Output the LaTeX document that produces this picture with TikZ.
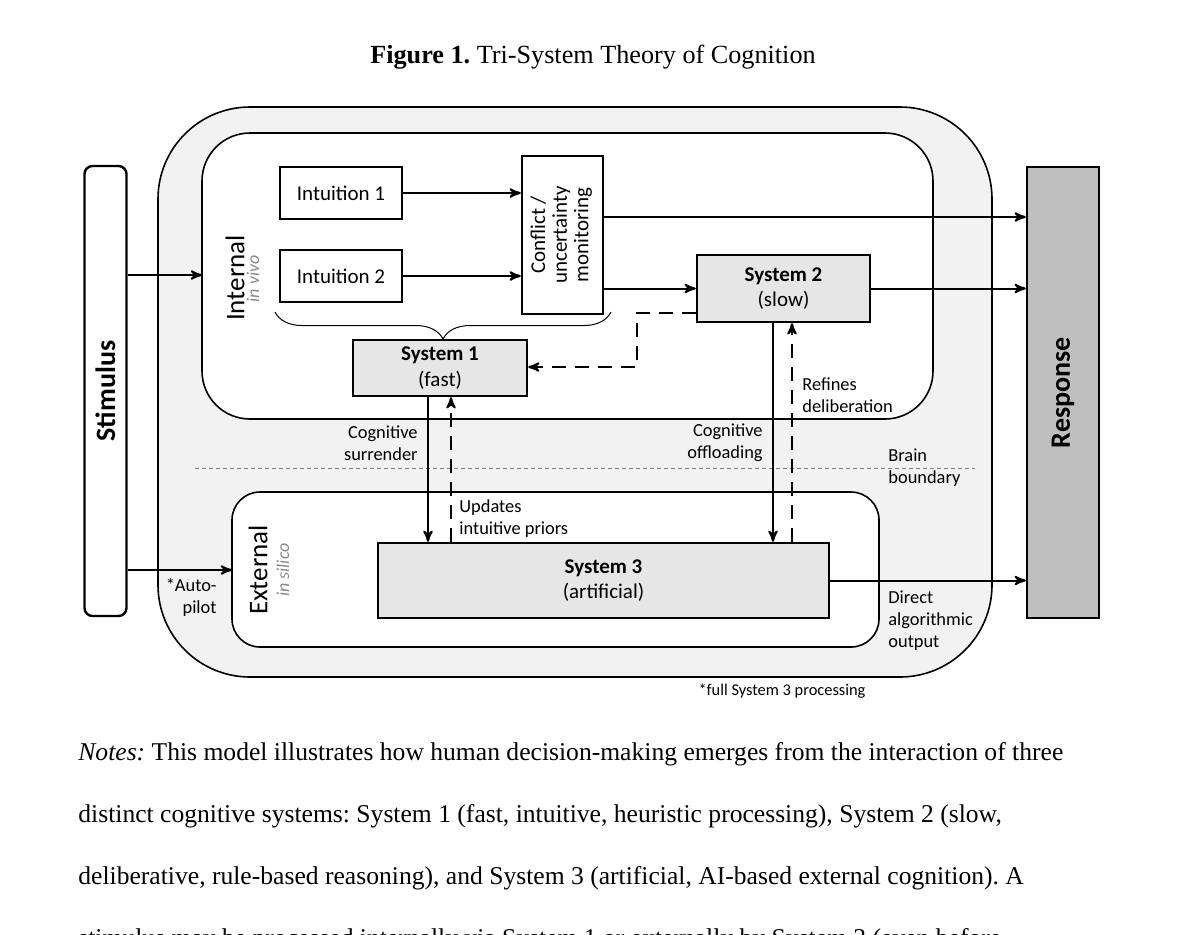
\documentclass[tikz,border=0pt]{standalone}
\usepackage{fontspec}
\setmainfont{Liberation Serif}
\setsansfont{Carlito}
\usetikzlibrary{arrows,decorations.pathreplacing}
\definecolor{regiongray}{HTML}{F2F2F2}
\definecolor{boxgray}{HTML}{E6E6E6}
\definecolor{respgray}{HTML}{BFBFBF}
\definecolor{siliconote}{HTML}{8A8A8A}
\frenchspacing

\begin{document}
\begin{tikzpicture}[x=0.5pt,y=-0.5pt,>=stealth',
    box/.style={draw,line width=1.2pt,fill=white,inner sep=0pt,align=center,font=\sffamily\fontsize{10.5}{12.7}\selectfont},
    sysbox/.style={box,fill=boxgray},
    sidebox/.style={draw,line width=1.2pt,inner sep=0pt,font=\sffamily\bfseries\fontsize{14}{16}\selectfont},
    region/.style={draw,line width=0.8pt,fill=white},
    edgetext/.style={inner sep=1pt,font=\sffamily\fontsize{9.2}{11}\selectfont},
    side lbl/.style={rotate=90,font=\sffamily\fontsize{13.5}{16}\selectfont},
    site lbl/.style={rotate=90,text=siliconote,font=\sffamily\itshape\fontsize{9}{11}\selectfont},
    conn/.style={->,line width=1pt},
    dashconn/.style={conn,dash pattern=on 7pt off 4.5pt}]

  \useasboundingbox (0,0) rectangle (1200,934);
  \clip (0,0) rectangle (1200,934);

  \node[font=\fontsize{13.1}{15}\selectfont] (title) at (593,57) {\textbf{Figure 1.} Tri-System Theory of Cognition};

  % regions
  \draw[region,fill=regiongray,rounded corners=46pt] (158,107) rectangle (992,677);
  \draw[region,rounded corners=24pt] (202,133) rectangle (933,419);
  \draw[region,rounded corners=14pt] (232,492) rectangle (879,647);
  \draw[gray,line width=0.4pt,dash pattern=on 2pt off 1.5pt] (195,468) -- (975,468);

  \coordinate (intin) at (202,275);
  \coordinate (extin) at (232,570);

  \node[sidebox,rounded corners=4pt,minimum width=21pt,minimum height=225pt] (stim) at (105.5,391) {\rotatebox{90}{Stimulus}};
  \node[sidebox,fill=respgray,minimum width=36pt,minimum height=225.5pt] (resp) at (1063,392.5) {\rotatebox{90}{Response}};

  \node[box,minimum width=61pt,minimum height=26pt] (int1) at (341,193) {Intuition 1};
  \node[box,minimum width=61pt,minimum height=26pt] (int2) at (341,276) {Intuition 2};
  \node[box,minimum width=40.5pt,minimum height=79pt] (conflict) at (562.5,235)
    {\rotatebox{90}{\fontsize{10.5}{10.8}\selectfont\begin{tabular}{@{}c@{}}Conflict /\\uncertainty\\monitoring\end{tabular}}};
  \node[sysbox,minimum width=87pt,minimum height=28pt] (sys1) at (440,368) {\textbf{System 1}\\(fast)};
  \node[sysbox,minimum width=86.5pt,minimum height=33.5pt] (sys2) at (783.5,288.5) {\textbf{System 2}\\(slow)};
  \node[sysbox,minimum width=225.5pt,minimum height=37.5pt] (sys3) at (603.5,580.5) {\textbf{System 3}\\(artificial)};

  \draw[decorate,decoration={brace,amplitude=13.5pt},line width=0.5pt] (611,312) -- (275,312);

  \node[side lbl] (intlbl) at (235,278) {Internal};
  \node[site lbl] (vivo) at (253,279) {in vivo};
  \node[side lbl] (extlbl) at (258,570) {External};
  \node[site lbl] (silico) at (283,570) {in silico};

  \draw[conn] (stim.east |- intin) -- (intin);
  \draw[conn] (stim.east |- extin) -- (extin);
  \draw[conn] (int1.east) -- (conflict.west |- int1.east);
  \draw[conn] (int2.east) -- (conflict.west |- int2.east);
  \draw[conn] (conflict.east |- 0,217) -- (resp.west |- 0,217);
  \draw[conn] (conflict.east |- sys2.west) -- (sys2.west);
  \draw[conn] (sys2.east) -- (resp.west |- sys2.east);
  \draw[conn] (sys3.east) -- (resp.west |- sys3.east);
  \draw[dashconn] (sys2.west |- 0,313) -| (637,367) -- (sys1.east |- 0,367);
  \draw[conn] (sys1.south -| 428,0) -- (sys3.north -| 428,0);
  \draw[dashconn] (sys3.north -| 451,0) -- (sys1.south -| 451,0);
  \draw[conn] (sys2.south -| 773,0) -- (sys3.north -| 773,0);
  \draw[dashconn] (sys3.north -| 792,0) -- (sys2.south -| 792,0);

  \node[edgetext,align=right,anchor=east] (surrender) at (420,443) {Cognitive\\surrender};
  \node[edgetext,align=left,anchor=west] (priors) at (457,519) {Updates\\intuitive priors};
  \node[edgetext,align=right,anchor=east] (offload) at (765,443) {Cognitive\\offloading};
  \node[edgetext,align=left,anchor=west] (refine) at (800,395) {Refines\\deliberation};
  \node[edgetext,align=left,anchor=west] (brain) at (886,468) {Brain\\boundary};
  \node[edgetext,align=left,anchor=west] (direct) at (886,621) {Direct\\algorithmic\\output};
  \node[edgetext,align=right,anchor=east] (autopilot) at (219,597) {*Auto-\\pilot};
  \node[edgetext,font=\sffamily\fontsize{8.2}{10}\selectfont] (fullnote) at (782,691) {*full System 3 processing};

  \node[anchor=base west,align=left,inner sep=0pt,font=\fontsize{12.8}{31}\selectfont] (notes) at (78,946)
    {\textit{Notes:} This model illustrates how human decision-making emerges from the interaction of three\\
     distinct cognitive systems: System 1 (fast, intuitive, heuristic processing), System 2 (slow,\\
     deliberative, rule-based reasoning), and System 3 (artificial, AI-based external cognition). A\\
     stimulus may be processed internally via System 1 or externally by System 3 (even before};
\end{tikzpicture}
\end{document}
